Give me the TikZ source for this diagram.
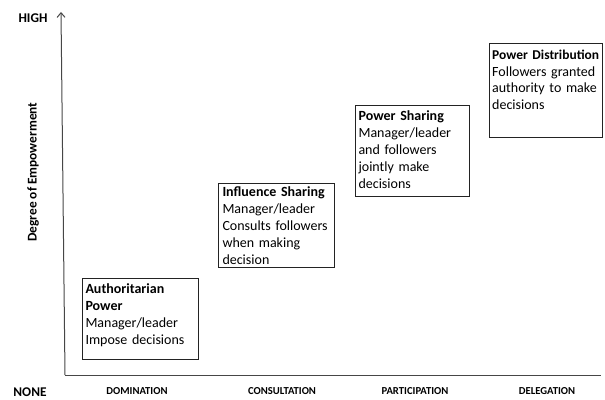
\documentclass[tikz,border=0pt]{standalone}
\usepackage{fontspec}
\setmainfont{Carlito}
\usetikzlibrary{arrows.meta, positioning}
\definecolor{axisgrey}{RGB}{70, 70, 70}
\definecolor{boxline}{RGB}{35, 35, 35}
\hyphenpenalty=10000
\exhyphenpenalty=10000

\begin{document}
\begin{tikzpicture}[x=0.75pt, y=-0.75pt]
    % Define styles
    \tikzstyle{stage} = [rectangle, draw=boxline, line width=0.75pt, anchor=north west, align=left, inner ysep=3pt, text height=8.5pt, font=\fontsize{10.5}{12.7}\selectfont]
    \tikzstyle{level} = [inner sep=1pt, font=\fontsize{10}{12}\selectfont\bfseries]
    \tikzstyle{mode} = [inner sep=1pt, font=\fontsize{8}{10}\selectfont\bfseries]
    \useasboundingbox (0,0) rectangle (605,399);

    % Axes
    \coordinate (origin) at (65,375);
    \coordinate (ytop) at (61,12);
    \coordinate (xend) at (601,375);
    \draw[axisgrey, line width=0.75pt, -{Straight Barb[length=3.5pt, width=6pt]}] (origin) -- (ytop);
    \draw[axisgrey, line width=0.75pt] (origin) -- (xend);

    % Axis labels
    \node[level] (high) at (33,18) {HIGH};
    \node[level] (none) at (30,392.5) {NONE};
    \node[level, rotate=90] (degree) at (33,172) {Degree of Empowerment};
    \node[mode] (dom) at (137,391.5) {DOMINATION};
    \node[mode] (cons) at (282,391.5) {CONSULTATION};
    \node[mode] (part) at (415,391.5) {PARTICIPATION};
    \node[mode] (dele) at (547,391.5) {DELEGATION};

    % Stages
    \node[stage, inner xsep=2.25pt, text width=82.5pt, text depth=46.6pt] (auth) at (82,277.5) {\textbf{Authoritarian}\\\textbf{Power}\\Manager/leader\\Impose decisions};
    \node[stage, inner xsep=3pt, text width=81pt, text height=7pt, text depth=50pt] (infl) at (218,183) {\textbf{Influence Sharing}\\Manager/leader\\Consults followers\\when making\\decision};
    \node[stage, inner xsep=2.5pt, text width=81pt, text depth=54.2pt] (share) at (354.7,104.7) {\textbf{Power Sharing}\\Manager/leader\\and followers\\jointly make\\decisions};
    \node[stage, inner xsep=2pt, text width=80.5pt, text depth=56pt] (distr) at (489,43.3) {\mbox{\fontsize{10.1}{12.7}\selectfont\textbf{Power Distribution}}\\Followers granted\\authority to make\\decisions};
\end{tikzpicture}
\end{document}
